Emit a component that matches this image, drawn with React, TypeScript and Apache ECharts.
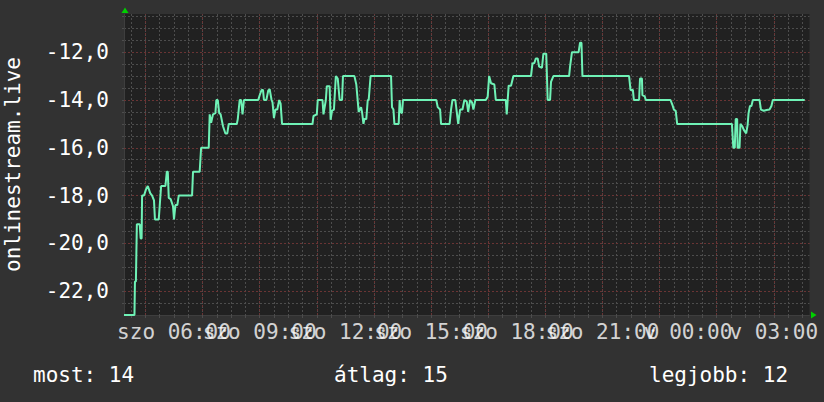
import React, { useEffect, useRef } from "react";
import * as echarts from "echarts";

// time in minutes since Saturday 00:00
const times = [
  255, 277, 278, 280, 282, 288, 290, 292, 293, 297, 301, 305, 310, 314, 318, 320, 328, 333, 342, 345,
  347, 349, 353, 358, 360, 363, 367, 370, 398, 400, 414, 417, 433, 435, 438, 442, 447, 449, 452, 455,
  458, 463, 468, 472, 475, 492, 494, 498, 501, 504, 507, 537, 540, 544, 547, 549, 554, 558, 561, 565,
  567, 570, 573, 577, 581, 584, 587, 651, 653, 660, 662, 672, 674, 679, 681, 687, 689, 692, 696, 700,
  704, 708, 713, 715, 739, 743, 748, 753, 755, 758, 760, 764, 767, 769, 773, 816, 818, 821, 823, 832,
  834, 836, 839, 841, 911, 914, 919, 921, 939, 942, 945, 951, 954, 957, 959, 961, 966, 970, 975, 978,
  982, 986, 989, 993, 1015, 1019, 1022, 1026, 1033, 1036, 1057, 1059, 1063, 1068, 1073, 1110, 1113, 1117, 1120, 1124,
  1127, 1133, 1136, 1142, 1145, 1150, 1152, 1157, 1190, 1192, 1196, 1210, 1213, 1216, 1218, 1316, 1319, 1324, 1326, 1337,
  1339, 1343, 1344, 1349, 1351, 1403, 1407, 1410, 1414, 1417, 1532, 1535, 1538, 1540, 1543, 1544, 1548, 1550, 1554, 1557,
  1562, 1565, 1567, 1570, 1573, 1576, 1590, 1593, 1599, 1605, 1611, 1615, 1618, 1685,
];

const values = [
  -23, -23, -21.6, -21.6, -19.2, -19.2, -19.8, -19.8, -18.0, -18.0, -17.75, -17.6, -17.9, -18.0, -18.2, -19.0, -19.0, -17.6, -17.6, -17.0,
  -17.0, -18.1, -18.15, -18.45, -19.0, -18.4, -18.4, -18.0, -18.0, -17.0, -17.0, -16.0, -16.0, -14.6, -14.95, -14.6, -14.55, -14.0, -14.0, -14.55,
  -14.6, -15.1, -15.4, -15.4, -15.0, -15.0, -14.8, -14.0, -14.0, -14.6, -14.0, -14.0, -13.8, -13.58, -13.58, -14.0, -14.0, -13.6, -13.55, -14.0,
  -14.1, -14.76, -14.4, -14.4, -14.0, -14.15, -15.0, -15.0, -14.67, -14.6, -14.0, -14.0, -14.6, -14.0, -13.42, -13.42, -14.83, -14.45, -14.4, -13.0,
  -13.1, -14.0, -14.0, -13.0, -13.0, -13.35, -14.5, -14.3, -14.5, -15.0, -14.8, -14.8, -14.0, -14.0, -13.0, -13.0, -14.3, -14.4, -15.0, -15.0,
  -14.0, -14.5, -14.55, -14.0, -14.0, -14.3, -14.4, -15.0, -15.0, -14.4, -14.0, -14.0, -14.5, -15.0, -14.7, -14.4, -14.4, -14.0, -14.06, -14.5,
  -14.0, -14.1, -14.4, -14.0, -14.0, -13.86, -13.0, -13.3, -13.35, -14.0, -14.0, -14.6, -13.4, -13.4, -13.0, -13.0, -12.47, -12.45, -12.26, -12.26,
  -12.6, -12.65, -12.06, -12.06, -14.0, -14.0, -13.24, -13.0, -13.0, -12.6, -12.0, -12.0, -11.6, -11.6, -13.0, -13.0, -13.58, -13.58, -14.0, -14.0,
  -13.1, -13.1, -13.8, -13.85, -14.0, -14.0, -14.2, -14.4, -14.45, -15.0, -15.0, -16.0, -16.0, -14.8, -14.8, -16.0, -16.0, -15.0, -15.1, -15.25,
  -15.4, -15.05, -14.55, -14.25, -14.25, -14.0, -14.0, -14.4, -14.45, -14.42, -14.4, -14.25, -14.0, -14.0,
];

const xMin = 255;
const xMax = 1695;
const yMin = -23;
const yMax = -10.4;

const xLabelTicks = [360, 540, 720, 900, 1080, 1260, 1440, 1620];
const yLabelTicks = [-22, -20, -18, -16, -14, -12];

const yAxisTitle = "onlinestream.live";
const statLabels = ["most: 14", "átlag: 15", "legjobb: 12"];

const FONT = "DejaVu Sans Mono";

function range(a: number, b: number, step: number): number[] {
  const out: number[] = [];
  for (let v = a; v <= b + 1e-9; v += step) out.push(Math.round(v * 1000) / 1000);
  return out;
}

export default function App() {
  const ref = useRef<HTMLDivElement>(null);
  useEffect(() => {
    if (!ref.current) return;
    const chart = echarts.init(ref.current, undefined, { renderer: "svg" });
    const minorX = range(270, 1680, 30);
    const majorX = range(300, 1680, 120);
    const minorY = range(-22.5, -10.5, 0.5);
    const majorY = range(-22, -12, 2);
    const grey = "#4d4d4d";
    const red = "#6a3434";
    const xFmt = (v: number) => {
      const day = v < 1440 ? "szo" : "v";
      const h = Math.floor(v / 60) % 24;
      const m = Math.round(v % 60);
      return `${day} ${String(h).padStart(2, "0")}:${String(m).padStart(2, "0")}`;
    };
    chart.setOption({
      animation: false,
      backgroundColor: "#323232",
      grid: {
        left: 124,
        right: 14.5,
        top: 14,
        bottom: 87,
        show: true,
        backgroundColor: "#212121",
        borderWidth: 0,
        containLabel: false,
        outerBoundsMode: "none",
      },
      xAxis: [
        {
          type: "value",
          min: xMin,
          max: xMax,
          position: "bottom",
          axisLine: { show: true, lineStyle: { color: "#3e3e3e", width: 1 } },
          axisTick: { show: true, customValues: minorX, length: 3, lineStyle: { color: grey } },
          splitLine: { show: true, lineStyle: { color: grey, type: [2, 2], width: 1 } },
          axisLabel: { show: false },
        },
      ],
      yAxis: [
        {
          type: "value",
          min: yMin,
          max: yMax,
          axisLine: { show: true, lineStyle: { color: "#3e3e3e", width: 1 } },
          axisTick: { show: true, customValues: minorY, length: 2, lineStyle: { color: grey } },
          splitLine: { show: true, lineStyle: { color: grey, type: [2, 2], width: 1 } },
          axisLabel: {
            customValues: yLabelTicks,
            formatter: (v: number) => v.toFixed(1).replace(".", ","),
            showMinLabel: true,
            showMaxLabel: true,
            color: "#ffffff",
            fontSize: 21,
            fontFamily: FONT,
            margin: 15,
          },
          name: yAxisTitle,
          nameLocation: "middle",
          nameGap: 101,
          nameTextStyle: { color: "#ffffff", fontSize: 21, fontFamily: FONT },
        },
      ],
      series: [
        {
          type: "line",
          data: [],
          silent: true,
          z: 1,
          markLine: {
            silent: true,
            symbol: "none",
            animation: false,
            label: { show: false },
            lineStyle: { color: red, type: [2, 2], width: 1 },
            emphasis: { disabled: true },
            data: [
              ...majorX.map((v) => ({ xAxis: v })),
              ...majorY.map((v) => ({ yAxis: v })),
            ],
          },
        },
        {
          type: "line",
          data: times.map((t, i) => [t, values[i]]),
          showSymbol: false,
          symbol: "none",
          lineStyle: { color: "#6ff2b6", width: 2 },
          z: 5,
        },
        {
          type: "scatter",
          silent: true,
          clip: false,
          data: xLabelTicks.map((t) => [t, yMin]),
          symbolSize: 0.01,
          itemStyle: { color: "rgba(0,0,0,0)" },
          label: {
            show: true,
            position: "bottom",
            distance: 6,
            formatter: (p: any) => xFmt(p.value[0]),
            color: "#ffffff",
            fontSize: 21,
            lineHeight: 21,
            fontFamily: FONT,
          },
          labelLayout: { hideOverlap: false },
          z: 6,
        },
      ],
      graphic: [
        { type: "polygon", shape: { points: [[125, 7.5], [121.5, 13], [128.5, 13]] }, style: { fill: "#00d000" } },
        { type: "polygon", shape: { points: [[811, 311.5], [811, 318.5], [816.5, 315]] }, style: { fill: "#00d000" } },
        {
          type: "text",
          x: 33,
          y: 375,
          style: { text: statLabels[0], fill: "#ffffff", font: `21px "${FONT}"`, textVerticalAlign: "middle" },
        },
        {
          type: "text",
          x: 334,
          y: 375,
          style: { text: statLabels[1], fill: "#ffffff", font: `21px "${FONT}"`, textVerticalAlign: "middle" },
        },
        {
          type: "text",
          x: 649,
          y: 375,
          style: { text: statLabels[2], fill: "#ffffff", font: `21px "${FONT}"`, textVerticalAlign: "middle" },
        },
      ],
    });
    return () => chart.dispose();
  }, []);
  return (
    <div
      ref={ref}
      style={{ position: "fixed", left: 0, top: 0, width: 824, height: 402 }}
    />
  );
}
